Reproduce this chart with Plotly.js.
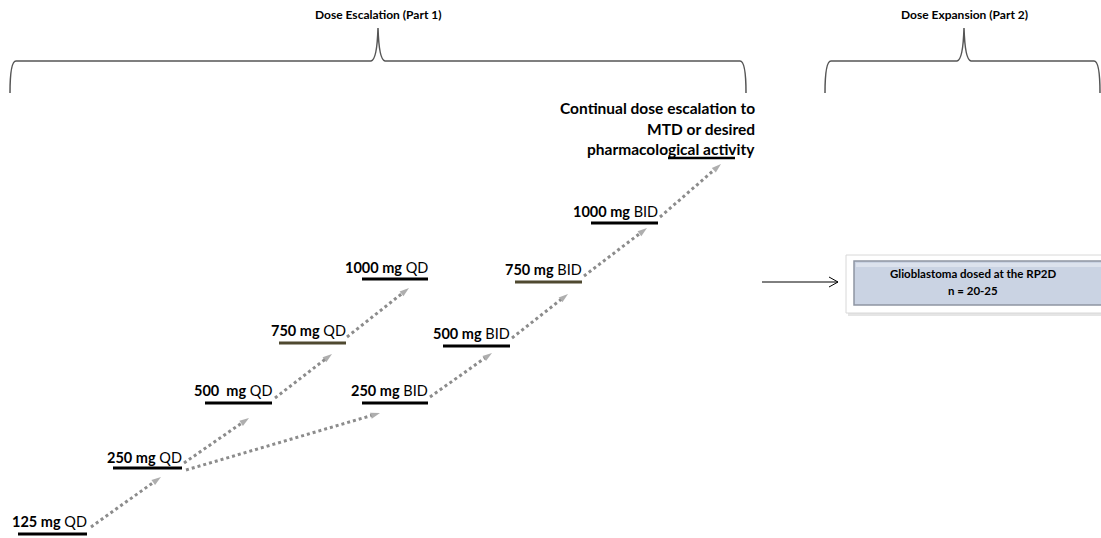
<!DOCTYPE html>
<html>
<head>
<meta charset="utf-8">
<script src="https://cdn.plot.ly/plotly-3.0.1.min.js"></script>
<style>html,body{margin:0;padding:0;background:#fff;}#chart{width:1101px;height:538px;}</style>
</head>
<body>
<div id="chart"></div>
<script>
// ---------- DATA ----------
const phaseTitles = ['Dose Escalation (Part 1)', 'Dose Expansion (Part 2)'];
const qdDoses = [125, 250, 500, 750, 1000];
const bidDoses = [250, 500, 750, 1000];
const doseUnit = 'mg';
const schedules = ['QD', 'BID'];
const continualText = ['Continual dose escalation to', 'MTD or desired', 'pharmacological activity'];
const expansionCohort = 'Glioblastoma dosed at the RP2D';
const expansionN = 'n = 20-25';
// escalation steps: [from, to]
const steps = [['QD0','QD1'],['QD1','QD2'],['QD1','BID0'],['QD2','QD3'],['QD3','QD4'],
               ['BID0','BID1'],['BID1','BID2'],['BID2','BID3'],['BID3','CONT']];

// ---------- LAYOUT GEOMETRY (pixel space) ----------
const POS = {
  QD0: {x0: 18, x1: 87, y: 534, ly: 521},
  QD1: {x0: 113, x1: 182, y: 468, ly: 457},
  QD2: {x0: 205, x1: 272, y: 403, ly: 390},
  QD3: {x0: 279, x1: 346, y: 343, ly: 330},
  QD4: {x0: 362, x1: 428, y: 279, ly: 267},
  BID0: {x0: 362, x1: 428, y: 403, ly: 390},
  BID1: {x0: 443, x1: 510, y: 346, ly: 333},
  BID2: {x0: 515, x1: 582, y: 282, ly: 269},
  BID3: {x0: 591, x1: 658, y: 223, ly: 211},
  CONT: {x0: 668, x1: 735, y: 158}
};
const ARROWS = [
  [[91,527],[161,477]], [[184,463],[249,418]], [[186,470],[380,413]],
  [[275,398],[332,354]], [[347,337],[409,288]], [[430,397],[492,353]],
  [[512,338],[568,294]], [[584,276],[647,228]], [[660,217],[721,164]]
];
const FONT = 'Lato, "Open Sans", sans-serif';
const ARROW_COLOR = '#8c8c8c';

const traces = [];
const annotations = [];
const shapes = [];

// dose level bars + labels
function addLevel(key, dose, sched) {
  const p = POS[key];
  const olive = dose === 750;
  traces.push({x: [p.x0, p.x1], y: [p.y, p.y], mode: 'lines', hoverinfo: 'skip',
    line: {color: olive ? '#4f4930' : '#000000', width: 3}});
  annotations.push({x: p.x1 + 2, y: p.ly, xref: 'x', yref: 'y', xanchor: 'right', yanchor: 'middle',
    showarrow: false, text: '<b>' + (dose === 500 && sched === 'QD' ? dose + '\u00a0 ' : dose + ' ') + doseUnit + '</b> ' + sched,
    font: {family: FONT, size: 14.5, color: '#000'}});
}
qdDoses.forEach((d, i) => addLevel('QD' + i, d, schedules[0]));
bidDoses.forEach((d, i) => addLevel('BID' + i, d, schedules[1]));
// continual bar
traces.push({x: [POS.CONT.x0, POS.CONT.x1], y: [POS.CONT.y, POS.CONT.y], mode: 'lines', hoverinfo: 'skip',
  line: {color: '#000', width: 2.5}});
continualText.forEach((t, i) => {
  annotations.push({x: 757, y: 108 + i * 20.5, xref: 'x', yref: 'y', xanchor: 'right', yanchor: 'middle',
    showarrow: false, text: '<b>' + t + '</b>', font: {family: FONT, size: 15.5, color: '#000'}});
});

// escalation arrows
steps.forEach((s, i) => {
  const a = ARROWS[i];
  traces.push({x: [a[0][0], a[1][0]], y: [a[0][1], a[1][1]], mode: 'lines+markers', hoverinfo: 'skip',
    line: {color: ARROW_COLOR, width: 3, dash: 'dot'},
    marker: {symbol: ['circle', 'arrow'], size: [0, 10], angleref: 'previous', color: ARROW_COLOR,
             line: {width: 0}}});
});

// phase titles and braces
annotations.push({x: 378, y: 14, xref: 'x', yref: 'y', showarrow: false, text: '<b>' + phaseTitles[0] + '</b>',
  font: {family: FONT, size: 12, color: '#000'}});
annotations.push({x: 964, y: 14, xref: 'x', yref: 'y', showarrow: false, text: '<b>' + phaseTitles[1] + '</b>',
  font: {family: FONT, size: 12, color: '#000'}});
function brace(xl, xc, xr) {
  return 'M' + xl + ',93 Q' + xl + ',61 ' + (xl + 6) + ',61 L' + (xc - 7) + ',61 Q' + (xc - 1) + ',60 ' + xc + ',28 Q' +
    (xc + 1) + ',60 ' + (xc + 7) + ',61 L' + (xr - 6) + ',61 Q' + xr + ',61 ' + xr + ',93';
}
shapes.push({type: 'path', xref: 'x', yref: 'y', path: brace(10, 378, 746), line: {color: '#555', width: 1.5}});
shapes.push({type: 'path', xref: 'x', yref: 'y', path: brace(825, 964, 1100), line: {color: '#555', width: 1.5}});

// horizontal arrow to expansion
shapes.push({type: 'line', xref: 'x', yref: 'y', x0: 762, y0: 282, x1: 838, y1: 282, line: {color: '#000', width: 1}});
shapes.push({type: 'path', xref: 'x', yref: 'y', path: 'M829,277 L838,282 L829,287', line: {color: '#000', width: 1}});

// expansion box
shapes.push({type: 'rect', xref: 'x', yref: 'y', x0: 848, y0: 258, x1: 1104, y1: 316, fillcolor: 'rgba(0,0,0,0.10)', line: {width: 0}});
shapes.push({type: 'rect', xref: 'x', yref: 'y', x0: 846, y0: 255, x1: 1104, y1: 313, fillcolor: '#ffffff', line: {color: '#d8d8d8', width: 1}});
shapes.push({type: 'rect', xref: 'x', yref: 'y', x0: 854, y0: 261, x1: 1104, y1: 305, fillcolor: '#cad3e3', line: {color: '#8e95a3', width: 1.5}});
shapes.push({type: 'rect', xref: 'x', yref: 'y', x0: 856, y0: 263, x1: 1104, y1: 267, fillcolor: '#dce2ed', line: {width: 0}});
annotations.push({x: 973, y: 273, xref: 'x', yref: 'y', showarrow: false, text: '<b>' + expansionCohort + '</b>',
  font: {family: FONT, size: 11.5, color: '#000'}});
annotations.push({x: 973, y: 290, xref: 'x', yref: 'y', showarrow: false, text: '<b>' + expansionN + '</b>',
  font: {family: FONT, size: 11.5, color: '#000'}});

const layout = {
  width: 1101, height: 538,
  margin: {l: 0, r: 0, t: 0, b: 0},
  paper_bgcolor: '#ffffff', plot_bgcolor: '#ffffff',
  showlegend: false,
  xaxis: {range: [0, 1101], visible: false, fixedrange: true},
  yaxis: {range: [538, 0], visible: false, fixedrange: true},
  annotations: annotations,
  shapes: shapes
};
Plotly.newPlot('chart', traces, layout, {displayModeBar: false, staticPlot: true});
</script>
</body>
</html>
